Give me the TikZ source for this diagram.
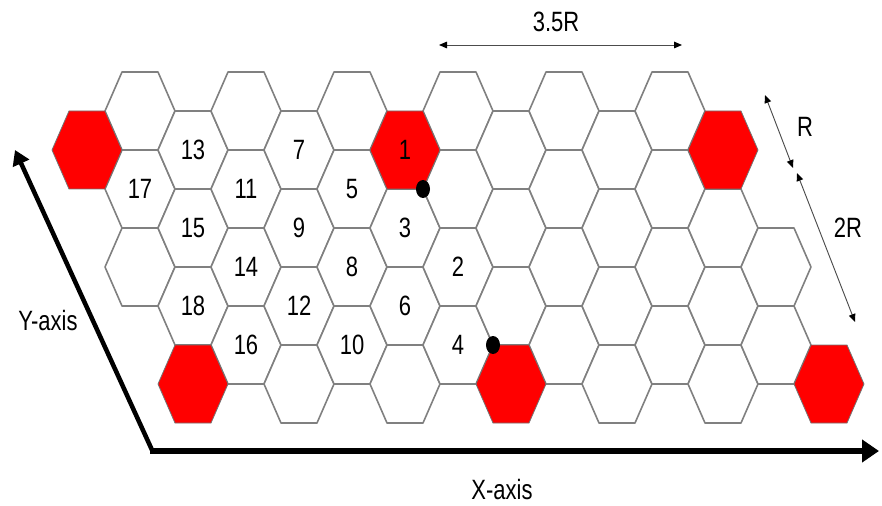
\documentclass[tikz,border=0pt]{standalone}
\usepackage{fontspec}
\setmainfont{Liberation Sans}
\usetikzlibrary{arrows.meta,shapes.geometric}

% glyphs are set a little taller than wide
\newcommand{\tallt}[1]{\scalebox{1}[1.27]{#1}}

\tikzset{
  plain/.style={draw=gray,line width=1.2pt,fill=white,line join=round},
  hot/.style={draw=black!55,line width=0.6pt,fill=red},
  num/.style={inner sep=0pt,font=\fontsize{16.5}{19}\selectfont},
  dot/.style={ellipse,fill=black,inner sep=0pt,minimum width=10.5pt,minimum height=13.5pt},
  dim/.style={draw=black!70,line width=0.7pt,{Triangle[length=6pt,width=5pt,color=black]}-{Triangle[length=6pt,width=5pt,color=black]}},
}

\begin{document}
\begin{tikzpicture}[x=0.75pt,y=0.75pt,yscale=-1,xscale=1]

\useasboundingbox (0,0) rectangle (882,506);

% white cells: column / half rows
\foreach \c/\hs in {1/{-1,1,3},2/{0,2,4},3/{-1,1,3,5},4/{0,2,4,6},5/{-1,1,3,5},6/{2,4,6},
                    7/{-1,1,3,5},8/{0,2,4},9/{-1,1,3,5},10/{0,2,4,6},11/{-1,1,3,5},12/{2,4,6},13/{3,5}}{
  \foreach \h in \hs
    \draw[plain] ({87+53*\c},{150+39*\h}) ++(-35,0) -- ++(17,-39) -- ++(36,0) -- ++(17,39) -- ++(-17,39) -- ++(-36,0) -- cycle;
}

% red cells
\foreach \c/\h in {0/0,6/0,12/0,2/6,8/6,14/6}
  \draw[hot] ({87+53*\c},{150+39*\h}) ++(-35,0) -- ++(17,-39) -- ++(36,0) -- ++(17,39) -- ++(-17,39) -- ++(-36,0) -- cycle;

% cell numbers
\foreach \n/\c/\h in {1/6/0,2/7/3,3/6/2,4/7/5,5/5/1,6/6/4,7/4/0,8/5/3,9/4/2,10/5/5,
                      11/3/1,12/4/4,13/2/0,14/3/3,15/2/2,16/3/5,17/1/1,18/2/4}
  \node[num] (n\n) at ({87+53*\c},{150+39*\h}) {\tallt{\n}};

% corner points
\node[dot] (p1) at (423,189) {};
\node[dot] (p2) at (493,345) {};

% axes
\coordinate (o) at (152,450);
\coordinate (ytip) at (15,150);
\coordinate (xtip) at (879,451);
\coordinate (xo) at (150,451);
\draw[line width=3.4pt,-{Triangle[length=11pt,width=13pt]}] (o) -- (ytip);
\draw[line width=5pt,-{Triangle[length=12.75pt,width=16.5pt]}] (xo) -- (xtip);
\node[num] (ylab) at (48,321) {\tallt{Y-axis}};
\node[num] (xlab) at (502,490) {\tallt{X-axis}};

% spacing marks
\coordinate (a1) at (439,45);
\coordinate (a2) at (682,45);
\draw[dim] (a1) -- (a2);
\node[num] (wlab) at (556,22) {\tallt{3.5R}};

\coordinate (b1) at (765,95);
\coordinate (b2) at (793,168);
\draw[dim] (b1) -- (b2);
\node[num] (rlab) at (805,127) {\tallt{R}};

\coordinate (c1) at (797,173);
\coordinate (c2) at (855,322);
\draw[dim] (c1) -- (c2);
\node[num] (rrlab) at (848,228) {\tallt{2R}};

\end{tikzpicture}
\end{document}
